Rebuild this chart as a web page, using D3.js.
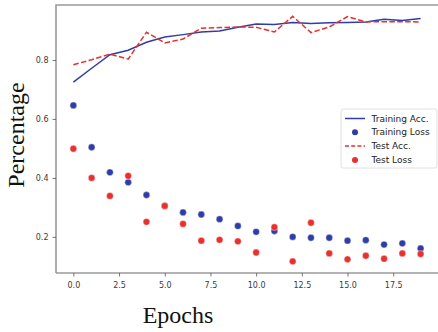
<!DOCTYPE html>
<html>
<head>
<meta charset="utf-8">
<script src="https://cdn.jsdelivr.net/npm/d3@7"></script>
<style>
  body { margin: 0; background: #fff; }
  svg { display: block; }
</style>
</head>
<body>
<svg id="chart" width="438" height="332"></svg>
<script>
// values
var epochs = d3.range(0, 20);
var trainAcc  = [0.725, 0.772, 0.818, 0.833, 0.860, 0.878, 0.886, 0.895, 0.898, 0.911,
                 0.922, 0.920, 0.927, 0.924, 0.926, 0.927, 0.929, 0.938, 0.934, 0.941];
var trainLoss = [0.646, 0.504, 0.419, 0.385, 0.342, 0.305, 0.283, 0.276, 0.260, 0.237,
                 0.217, 0.220, 0.200, 0.197, 0.197, 0.187, 0.189, 0.174, 0.178, 0.161];
var testAcc   = [0.784, 0.801, 0.820, 0.803, 0.894, 0.858, 0.871, 0.908, 0.910, 0.912,
                 0.911, 0.895, 0.948, 0.893, 0.912, 0.947, 0.929, 0.930, 0.930, 0.929];
var testLoss  = [0.499, 0.400, 0.339, 0.407, 0.251, 0.305, 0.244, 0.187, 0.190, 0.185,
                 0.147, 0.233, 0.117, 0.248, 0.144, 0.124, 0.136, 0.126, 0.144, 0.142];
var xTicks = [0, 2.5, 5, 7.5, 10, 12.5, 15, 17.5];
var yTicks = [0.2, 0.4, 0.6, 0.8];
var legendItems = ["Training Acc.", "Training Loss", "Test Acc.", "Test Loss"];

var blue = "#2f3da6", red = "#e8302c";

var svg = d3.select("#chart");
var plotL = 56, plotR = 438, plotT = 5, plotB = 273;

var x = d3.scaleLinear().domain([-0.95, 19.95]).range([plotL, plotR]);
var y = d3.scaleLinear().domain([0.0775, 0.9865]).range([plotB, plotT]);

// spines
svg.append("path")
  .attr("d", "M" + plotL + "," + plotB + "V" + plotT + "H" + plotR + "M" + plotL + "," + plotB + "H" + plotR)
  .attr("fill", "none")
  .attr("stroke", "#9a9a9a")
  .attr("stroke-width", 1.6);

var xAxis = svg.append("g")
  .attr("transform", "translate(0," + plotB + ")")
  .call(d3.axisBottom(x).tickValues(xTicks).tickFormat(d3.format(".1f")).tickSizeOuter(0).tickSize(3.5).tickPadding(6));
var yAxis = svg.append("g")
  .attr("transform", "translate(" + plotL + ",0)")
  .call(d3.axisLeft(y).tickValues(yTicks).tickFormat(d3.format(".1f")).tickSizeOuter(0).tickSize(3.5).tickPadding(4));

[xAxis, yAxis].forEach(function(a) {
  a.select(".domain").remove();
  a.selectAll("line").attr("stroke", "#555").attr("stroke-width", 0.8);
  a.selectAll("text").attr("fill", "#3a3a3a").style("font-family", "DejaVu Sans, sans-serif").style("font-size", "8px");
});

var line = d3.line().x(function(d, i) { return x(epochs[i]); }).y(function(d) { return y(d); });

svg.append("path").datum(trainAcc)
  .attr("d", line).attr("fill", "none").attr("stroke", blue).attr("stroke-width", 1.5);
svg.append("path").datum(testAcc)
  .attr("d", line).attr("fill", "none").attr("stroke", red).attr("stroke-width", 1.5)
  .attr("stroke-dasharray", "5.5,2.4");

svg.append("g").selectAll("circle").data(trainLoss).enter().append("circle")
  .attr("cx", function(d, i) { return x(epochs[i]); })
  .attr("cy", function(d) { return y(d); })
  .attr("r", 3.4).attr("fill", blue).attr("stroke", "#fff").attr("stroke-width", 0.4);
svg.append("g").selectAll("circle").data(testLoss).enter().append("circle")
  .attr("cx", function(d, i) { return x(epochs[i]); })
  .attr("cy", function(d) { return y(d); })
  .attr("r", 3.4).attr("fill", red).attr("stroke", "#fff").attr("stroke-width", 0.4);

// legend
var lg = svg.append("g").attr("transform", "translate(341,109)");
lg.append("rect").attr("width", 96).attr("height", 59).attr("rx", 2)
  .attr("fill", "#fff").attr("stroke", "#d8d8d8").attr("stroke-width", 0.8);
legendItems.forEach(function(name, i) {
  var yy = 9.5 + i * 13.8;
  var g = lg.append("g").attr("transform", "translate(0," + yy + ")");
  if (i % 2 === 0) {
    g.append("line").attr("x1", 4).attr("x2", 24).attr("y1", 0).attr("y2", 0)
      .attr("stroke", i === 0 ? blue : red).attr("stroke-width", 1.5)
      .attr("stroke-dasharray", i === 0 ? null : "4,2.2");
  } else {
    g.append("circle").attr("cx", 14).attr("cy", 0).attr("r", 3)
      .attr("fill", i === 1 ? blue : red);
  }
  g.append("text").attr("x", 30.5).attr("y", 0).attr("dy", "0.35em")
    .style("font-family", "DejaVu Sans, sans-serif").style("font-size", "9px")
    .attr("fill", "#222").text(name);
});

// axis titles
svg.append("text")
  .attr("transform", "translate(24,135) rotate(-90)")
  .attr("text-anchor", "middle")
  .style("font-family", "Liberation Serif, Times New Roman, serif").style("font-size", "24px")
  .attr("fill", "#111").text("Percentage");
svg.append("text")
  .attr("x", 178).attr("y", 323)
  .attr("text-anchor", "middle")
  .style("font-family", "Liberation Serif, Times New Roman, serif").style("font-size", "24px")
  .attr("fill", "#111").text("Epochs");
</script>
</body>
</html>
